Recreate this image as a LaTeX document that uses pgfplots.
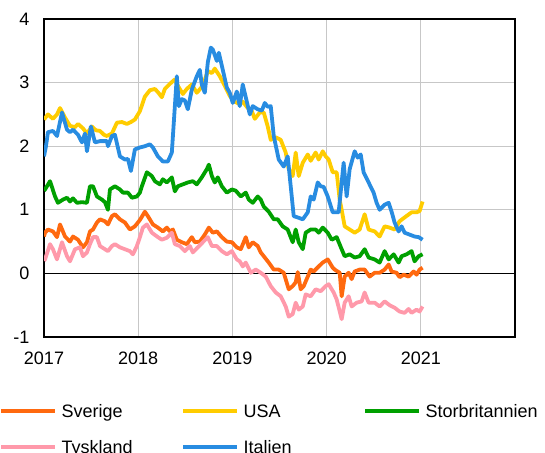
\documentclass[border=0pt]{standalone}
\usepackage{fontspec}
\setmainfont{Liberation Sans}
\usepackage{pgfplots}
\pgfplotsset{compat=1.18}
\definecolor{cSE}{RGB}{255,105,15}
\definecolor{cUS}{RGB}{255,204,0}
\definecolor{cUK}{RGB}{0,160,0}
\definecolor{cDE}{RGB}{255,153,170}
\definecolor{cIT}{RGB}{40,140,225}
\begin{document}
\begin{tikzpicture}
\useasboundingbox (-44bp,-116bp) rectangle (501bp,337bp);
\begin{axis}[
  at={(0,0)}, anchor=south west,
  scale only axis, width=471bp, height=318bp,
  xmin=2017, xmax=2022, ymin=-1, ymax=4,
  xtick={2017,2018,2019,2020,2021,2022}, xticklabels={2017,2018,2019,2020,2021,{}},
  ytick={-1,0,1,2,3,4}, yticklabels={-1,0,1,2,3,4},
  major tick length=0pt,
  grid=major, major grid style={line width=1bp, color=black!22},
  axis line style={line width=1.5bp, black},
  tick label style={font=\fontsize{18bp}{21bp}\selectfont},
  xticklabel style={yshift=-11bp},
  yticklabel style={xshift=-11bp},
  legend columns=3,
  legend style={draw=none, fill=none, at={(-0.0955,-0.2113)}, anchor=north west,
    inner sep=0pt, outer sep=0pt, font=\fontsize{18bp}{21bp}\selectfont,
    cells={anchor=base west}, nodes={inner sep=0pt, outer sep=0pt}, row sep=21bp, column sep=0pt},
  legend image code/.code={\draw[#1, line width=4bp] (0bp,6.6bp) -- (54bp,6.6bp); \path (0bp,0bp);},
  every axis plot/.append style={line width=3.8bp, line join=round},
]
\addplot[black, line width=1.5bp, forget plot] coordinates {(2017,0) (2022,0)};

\addplot[cSE] coordinates {(2017.000,0.58)(2017.011,0.64)(2017.042,0.69)(2017.095,0.66)(2017.138,0.57)(2017.170,0.77)(2017.223,0.58)(2017.276,0.50)(2017.308,0.58)(2017.361,0.53)(2017.414,0.41)(2017.456,0.49)(2017.488,0.66)(2017.520,0.69)(2017.562,0.80)(2017.594,0.85)(2017.647,0.82)(2017.679,0.77)(2017.721,0.90)(2017.753,0.93)(2017.806,0.85)(2017.859,0.80)(2017.912,0.69)(2017.965,0.74)(2018.018,0.84)(2018.071,0.97)(2018.103,0.90)(2018.156,0.77)(2018.209,0.72)(2018.262,0.66)(2018.304,0.72)(2018.336,0.66)(2018.368,0.69)(2018.410,0.53)(2018.463,0.49)(2018.516,0.46)(2018.569,0.57)(2018.601,0.49)(2018.654,0.50)(2018.707,0.61)(2018.750,0.72)(2018.792,0.64)(2018.835,0.66)(2018.888,0.57)(2018.941,0.50)(2018.994,0.49)(2019.047,0.41)(2019.089,0.38)(2019.142,0.57)(2019.174,0.41)(2019.216,0.49)(2019.269,0.43)(2019.301,0.33)(2019.333,0.27)(2019.386,0.17)(2019.439,0.06)(2019.492,0.06)(2019.545,0.01)(2019.598,-0.25)(2019.640,-0.20)(2019.672,-0.14)(2019.694,0.02)(2019.725,-0.25)(2019.757,-0.20)(2019.800,-0.05)(2019.831,0.06)(2019.863,0.03)(2019.916,0.11)(2019.959,0.17)(2020.012,0.22)(2020.065,0.09)(2020.086,0.06)(2020.139,0.01)(2020.160,-0.36)(2020.192,-0.05)(2020.234,0.01)(2020.266,-0.09)(2020.298,0.03)(2020.351,0.06)(2020.404,0.06)(2020.457,-0.05)(2020.510,0.01)(2020.563,0.01)(2020.616,0.06)(2020.659,0.14)(2020.690,0.03)(2020.743,0.01)(2020.775,-0.06)(2020.818,-0.02)(2020.871,-0.05)(2020.924,0.03)(2020.955,-0.02)(2020.987,0.06)(2021.019,0.09)};
\addlegendentry{\makebox[124bp][l]{\hspace{4.5bp}Sverige}}

\addplot[cUS] coordinates {(2017.000,2.42)(2017.042,2.50)(2017.095,2.43)(2017.138,2.50)(2017.170,2.60)(2017.223,2.45)(2017.276,2.32)(2017.329,2.30)(2017.361,2.35)(2017.414,2.28)(2017.456,2.20)(2017.509,2.31)(2017.551,2.25)(2017.594,2.24)(2017.636,2.18)(2017.668,2.16)(2017.721,2.20)(2017.774,2.37)(2017.827,2.38)(2017.880,2.35)(2017.923,2.38)(2017.965,2.42)(2018.018,2.55)(2018.071,2.78)(2018.124,2.88)(2018.177,2.90)(2018.209,2.85)(2018.251,2.77)(2018.283,2.90)(2018.336,2.98)(2018.389,3.05)(2018.421,2.95)(2018.474,2.82)(2018.516,2.90)(2018.569,2.97)(2018.622,2.84)(2018.686,2.95)(2018.739,3.18)(2018.782,3.15)(2018.813,3.22)(2018.866,3.10)(2018.919,2.95)(2018.972,2.79)(2019.025,2.70)(2019.078,2.66)(2019.110,2.70)(2019.163,2.60)(2019.206,2.55)(2019.238,2.43)(2019.291,2.53)(2019.333,2.53)(2019.375,2.31)(2019.407,2.10)(2019.460,2.14)(2019.513,2.10)(2019.566,1.90)(2019.598,1.64)(2019.640,1.53)(2019.672,1.90)(2019.704,1.53)(2019.747,1.74)(2019.800,1.87)(2019.831,1.77)(2019.884,1.90)(2019.916,1.79)(2019.959,1.92)(2019.990,1.84)(2020.022,1.79)(2020.065,1.59)(2020.107,1.59)(2020.139,1.16)(2020.160,1.00)(2020.192,0.74)(2020.245,0.69)(2020.298,0.64)(2020.351,0.69)(2020.404,0.93)(2020.446,0.69)(2020.510,0.66)(2020.563,0.58)(2020.616,0.74)(2020.669,0.72)(2020.722,0.69)(2020.775,0.82)(2020.828,0.88)(2020.902,0.96)(2020.955,0.96)(2020.987,0.98)(2021.019,1.13)};
\addlegendentry{\makebox[124bp][l]{\hspace{4.5bp}USA}}

\addplot[cUK] coordinates {(2017.000,1.30)(2017.011,1.32)(2017.064,1.45)(2017.117,1.21)(2017.148,1.11)(2017.201,1.16)(2017.244,1.19)(2017.276,1.13)(2017.308,1.18)(2017.350,1.11)(2017.403,1.12)(2017.456,1.11)(2017.488,1.37)(2017.520,1.37)(2017.562,1.21)(2017.615,1.16)(2017.647,1.12)(2017.679,1.00)(2017.700,1.32)(2017.753,1.37)(2017.806,1.32)(2017.838,1.27)(2017.891,1.27)(2017.933,1.19)(2017.986,1.21)(2018.018,1.27)(2018.039,1.37)(2018.092,1.59)(2018.145,1.53)(2018.177,1.45)(2018.230,1.40)(2018.262,1.48)(2018.304,1.43)(2018.357,1.51)(2018.389,1.29)(2018.421,1.37)(2018.474,1.40)(2018.527,1.43)(2018.580,1.45)(2018.622,1.40)(2018.675,1.51)(2018.729,1.64)(2018.750,1.71)(2018.782,1.53)(2018.813,1.43)(2018.845,1.51)(2018.888,1.37)(2018.941,1.27)(2018.994,1.32)(2019.036,1.30)(2019.089,1.21)(2019.142,1.27)(2019.174,1.16)(2019.216,1.11)(2019.269,1.21)(2019.301,1.16)(2019.333,1.05)(2019.386,0.97)(2019.439,0.85)(2019.481,0.85)(2019.534,0.74)(2019.587,0.69)(2019.640,0.49)(2019.672,0.69)(2019.704,0.49)(2019.747,0.38)(2019.778,0.64)(2019.831,0.69)(2019.884,0.69)(2019.916,0.64)(2019.959,0.72)(2020.012,0.64)(2020.054,0.53)(2020.107,0.57)(2020.160,0.38)(2020.192,0.27)(2020.245,0.30)(2020.298,0.25)(2020.351,0.27)(2020.404,0.38)(2020.446,0.25)(2020.510,0.22)(2020.563,0.17)(2020.616,0.35)(2020.659,0.22)(2020.712,0.30)(2020.765,0.17)(2020.796,0.27)(2020.849,0.30)(2020.902,0.35)(2020.934,0.19)(2020.977,0.27)(2021.019,0.30)};
\addlegendentry{\makebox[124bp][l]{\hspace{4.5bp}Storbritannien}}

\addplot[cDE] coordinates {(2017.000,0.20)(2017.011,0.22)(2017.064,0.46)(2017.095,0.38)(2017.138,0.22)(2017.191,0.49)(2017.244,0.27)(2017.276,0.19)(2017.329,0.38)(2017.382,0.41)(2017.414,0.27)(2017.456,0.33)(2017.488,0.46)(2017.520,0.57)(2017.562,0.57)(2017.594,0.43)(2017.647,0.38)(2017.679,0.35)(2017.721,0.43)(2017.753,0.46)(2017.806,0.41)(2017.859,0.38)(2017.912,0.35)(2017.944,0.30)(2017.986,0.43)(2018.018,0.57)(2018.050,0.72)(2018.092,0.77)(2018.145,0.64)(2018.209,0.57)(2018.251,0.53)(2018.304,0.56)(2018.357,0.64)(2018.389,0.46)(2018.442,0.43)(2018.495,0.35)(2018.548,0.43)(2018.580,0.33)(2018.633,0.41)(2018.686,0.49)(2018.739,0.57)(2018.782,0.43)(2018.835,0.43)(2018.888,0.35)(2018.941,0.30)(2018.994,0.35)(2019.047,0.22)(2019.078,0.19)(2019.110,0.11)(2019.142,0.17)(2019.195,0.01)(2019.248,0.06)(2019.301,0.01)(2019.354,-0.05)(2019.407,-0.20)(2019.460,-0.30)(2019.513,-0.36)(2019.566,-0.52)(2019.598,-0.68)(2019.640,-0.64)(2019.672,-0.46)(2019.704,-0.57)(2019.747,-0.52)(2019.778,-0.33)(2019.831,-0.36)(2019.884,-0.25)(2019.937,-0.28)(2019.990,-0.20)(2020.022,-0.17)(2020.075,-0.30)(2020.107,-0.41)(2020.160,-0.72)(2020.192,-0.46)(2020.234,-0.36)(2020.266,-0.52)(2020.319,-0.46)(2020.372,-0.44)(2020.404,-0.30)(2020.446,-0.46)(2020.510,-0.46)(2020.563,-0.52)(2020.616,-0.44)(2020.669,-0.50)(2020.722,-0.54)(2020.775,-0.60)(2020.828,-0.62)(2020.871,-0.56)(2020.902,-0.62)(2020.955,-0.57)(2020.987,-0.60)(2021.019,-0.52)};
\addlegendentry{\makebox[124bp][l]{\hspace{4.5bp}Tyskland}}

\addplot[cIT] coordinates {(2017.000,1.84)(2017.021,2.00)(2017.042,2.22)(2017.095,2.24)(2017.138,2.16)(2017.191,2.53)(2017.244,2.26)(2017.276,2.22)(2017.308,2.26)(2017.361,2.18)(2017.403,2.06)(2017.435,2.20)(2017.456,1.92)(2017.498,2.31)(2017.541,2.06)(2017.594,2.08)(2017.668,2.08)(2017.679,2.00)(2017.721,2.16)(2017.753,2.18)(2017.806,1.84)(2017.859,1.79)(2017.891,1.80)(2017.923,1.61)(2017.965,1.95)(2018.018,1.98)(2018.071,2.00)(2018.124,2.03)(2018.156,1.98)(2018.209,1.84)(2018.262,1.76)(2018.315,1.76)(2018.357,1.90)(2018.410,3.10)(2018.432,2.63)(2018.463,2.74)(2018.495,2.72)(2018.527,2.58)(2018.569,2.89)(2018.622,3.10)(2018.654,3.20)(2018.675,2.97)(2018.707,2.84)(2018.739,3.32)(2018.771,3.55)(2018.792,3.52)(2018.835,3.34)(2018.856,3.47)(2018.898,3.20)(2018.941,2.92)(2018.972,2.84)(2019.004,2.68)(2019.047,2.86)(2019.078,2.63)(2019.110,2.97)(2019.153,2.70)(2019.185,2.50)(2019.216,2.63)(2019.269,2.58)(2019.312,2.56)(2019.344,2.68)(2019.375,2.62)(2019.407,2.63)(2019.439,2.16)(2019.492,1.79)(2019.545,1.68)(2019.587,1.84)(2019.619,1.37)(2019.651,0.90)(2019.694,0.88)(2019.747,0.85)(2019.800,0.96)(2019.831,1.21)(2019.863,1.16)(2019.906,1.43)(2019.937,1.37)(2019.969,1.36)(2020.012,1.21)(2020.065,0.96)(2020.128,0.96)(2020.181,1.74)(2020.213,1.21)(2020.245,1.64)(2020.298,1.92)(2020.330,1.82)(2020.362,1.87)(2020.393,1.59)(2020.446,1.43)(2020.499,1.27)(2020.531,1.11)(2020.563,1.00)(2020.616,1.08)(2020.659,1.11)(2020.690,0.97)(2020.722,0.80)(2020.765,0.66)(2020.796,0.74)(2020.828,0.64)(2020.881,0.61)(2020.934,0.58)(2020.977,0.57)(2021.019,0.53)};
\addlegendentry{\makebox[124bp][l]{\hspace{4.5bp}Italien}}
\end{axis}
\end{tikzpicture}
\end{document}
